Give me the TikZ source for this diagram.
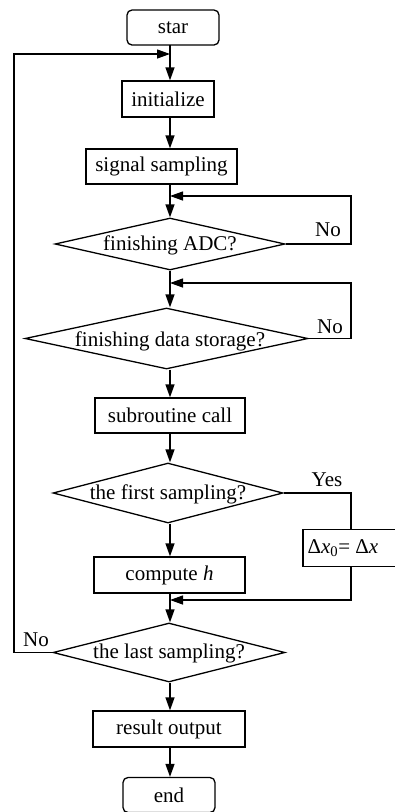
\documentclass[tikz,border=0pt]{standalone}
\usepackage{fontspec}
\setmainfont{Liberation Serif}
\usetikzlibrary{arrows.meta,shapes.geometric}
\begin{document}
\begin{tikzpicture}[x=1pt,y=-1pt,
  line width=1.3pt,
  every node/.style={font=\fontsize{21}{23}\selectfont},
  procbox/.style={draw,rectangle,inner sep=0pt},
  termbox/.style={draw,rectangle,rounded corners=5pt,inner sep=0pt},
  decbox/.style={draw,diamond,inner sep=0pt},
  lbl/.style={inner sep=0pt},
  arr/.style={-{Triangle[length=13pt,width=9pt]}},
]
\useasboundingbox (0,0) rectangle (394,812);
% nodes
\node[termbox,minimum width=92pt,minimum height=35pt] (star) at (173,27.5) {star};
\node[procbox,minimum width=92pt,minimum height=36pt] (init) at (168,99) {initialize};
\node[procbox,minimum width=151pt,minimum height=35pt] (sig) at (161.5,166.5) {signal sampling};
\node[decbox,minimum width=230pt,minimum height=52pt] (adc) at (170,244) {};
\node[lbl] (adct) at (170,245) {finishing ADC?};
\node[decbox,minimum width=283pt,minimum height=61pt] (sto) at (166.5,338.5) {};
\node[lbl] (stot) at (170,341) {finishing data storage?};
\node[procbox,minimum width=150pt,minimum height=35pt] (sub) at (170,415.5) {subroutine call};
\node[decbox,minimum width=230pt,minimum height=60pt] (first) at (168,493) {};
\node[lbl] (firstt) at (168,494) {the first sampling?};
\node[procbox,minimum width=96pt,minimum height=37pt] (dx) at (351,548) {};
\node[lbl,anchor=west] (dxt) at (307,548) {Δ\textit{x}\textsubscript{0}= Δ\textit{x}};
\node[procbox,minimum width=151pt,minimum height=36pt] (comp) at (169.5,575) {compute \textit{h}};
\node[decbox,minimum width=232pt,minimum height=59pt] (last) at (169,652.5) {};
\node[lbl] (lastt) at (169,653) {the last sampling?};
\node[procbox,minimum width=152pt,minimum height=36pt] (res) at (169,729) {result output};
\node[termbox,minimum width=92pt,minimum height=35pt] (end) at (169,795) {end};
% labels
\node[lbl] (no1) at (328,230) {No};
\node[lbl] (no2) at (330,327) {No};
\node[lbl] (yes) at (327,480) {Yes};
\node[lbl] (no3) at (36,640) {No};
% coordinates
\coordinate (j0) at (170,54);
\coordinate (j1) at (170,196);
\coordinate (j2) at (170,283);
\coordinate (j3) at (170,600);
% connectors
\draw[arr] (170,45) -- (init.north -| 170,0);
\draw[arr] (init.south -| 170,0) -- (sig.north -| 170,0);
\draw[arr] (sig.south -| 170,0) -- (adc.north -| 170,0);
\draw[arr] (adc.south -| 170,0) -- (sto.north -| 170,0);
\draw[arr] (sto.south -| 170,0) -- (sub.north);
\draw[arr] (sub.south) -- (first.north -| 170,0);
\draw[arr] (first.south -| 170,0) -- (comp.north -| 170,0);
\draw[arr] (comp.south -| 170,0) -- (last.north -| 170,0);
\draw[arr] (last.south -| 170,0) -- (res.north -| 170,0);
\draw[arr] (res.south -| 170,0) -- (end.north -| 170,0);
\draw[arr] (adc.east) -- (351,244) -- (351,196) -- (j1);
\draw[arr] (sto.east) -- (351,338.5) -- (351,283) -- (j2);
\draw (first.east) -- (351,493) -- (dx.north);
\draw[arr] (dx.south) -- (351,600) -- (j3);
\draw[arr] (last.west) -- (14,652.5) -- (14,54) -- (j0);
\end{tikzpicture}
\end{document}
